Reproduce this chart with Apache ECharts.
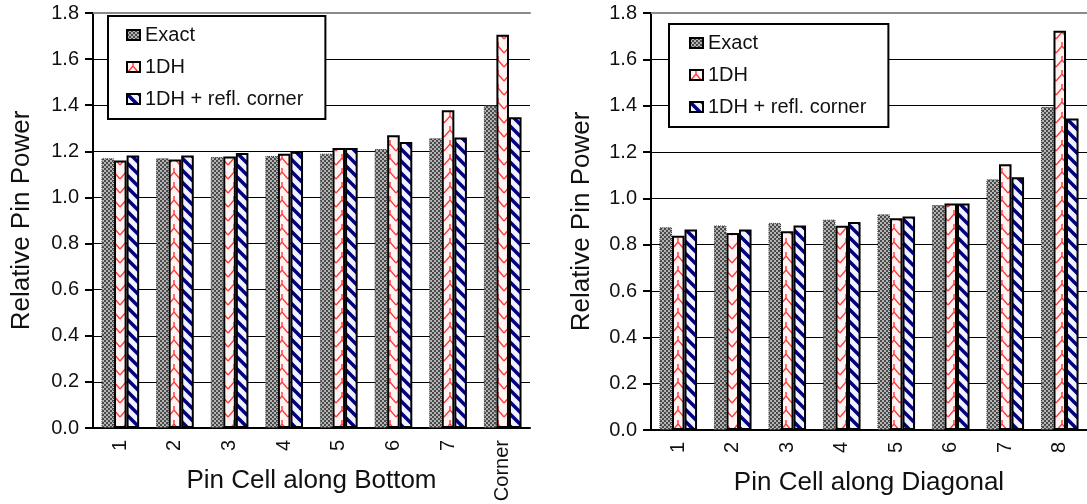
<!DOCTYPE html>
<html>
<head>
<meta charset="utf-8">
<script src="https://cdn.jsdelivr.net/npm/echarts@6/dist/echarts.min.js"></script>
<style>
  html, body { margin: 0; padding: 0; background: #fff; }
  #main { width: 1087px; height: 504px; }
</style>
</head>
<body>
<div id="main"></div>
<script>
// data
var bottomCats = ['1', '2', '3', '4', '5', '6', '7', 'Corner'];
var bottomExact = [1.17, 1.17, 1.175, 1.18, 1.19, 1.21, 1.257, 1.40];
var bottom1DH = [1.16, 1.165, 1.178, 1.19, 1.215, 1.27, 1.378, 1.706];
var bottomRefl = [1.182, 1.182, 1.193, 1.198, 1.215, 1.24, 1.26, 1.348];

var diagCats = ['1', '2', '3', '4', '5', '6', '7', '8'];
var diagExact = [0.875, 0.883, 0.894, 0.908, 0.931, 0.971, 1.082, 1.395];
var diag1DH = [0.839, 0.85, 0.858, 0.882, 0.914, 0.978, 1.147, 1.723];
var diagRefl = [0.866, 0.866, 0.883, 0.898, 0.922, 0.978, 1.091, 1.345];

var yTicks = ['0.0', '0.2', '0.4', '0.6', '0.8', '1.0', '1.2', '1.4', '1.6', '1.8'];
var seriesNames = ['Exact', '1DH', '1DH + refl. corner'];

var font = '"Liberation Sans", Arial, sans-serif';

// fill patterns
function makeTile(w, h, draw) {
    var c = document.createElement('canvas');
    c.width = w;
    c.height = h;
    draw(c.getContext('2d'));
    return c;
}
var checkTile = makeTile(4, 4, function (ctx) {
    ctx.fillStyle = '#b4b4b4';
    ctx.fillRect(0, 0, 4, 4);
    ctx.fillStyle = '#4a4a4a';
    ctx.fillRect(0, 0, 2, 2);
    ctx.fillRect(2, 2, 2, 2);
});
var zigTile = makeTile(12, 14, function (ctx) {
    ctx.fillStyle = '#fff3f3';
    ctx.fillRect(0, 0, 12, 14);
    ctx.strokeStyle = '#ff3a3a';
    ctx.lineWidth = 1.4;
    ctx.beginPath();
    ctx.moveTo(0, 11);
    ctx.lineTo(6, 4);
    ctx.lineTo(12, 11);
    ctx.moveTo(6, 4);
    ctx.lineTo(6, 0);
    ctx.stroke();
});
var stripeTile = makeTile(12, 12, function (ctx) {
    ctx.fillStyle = '#f2f2ff';
    ctx.fillRect(0, 0, 12, 12);
    ctx.strokeStyle = '#000080';
    ctx.lineWidth = 3.5;
    ctx.beginPath();
    ctx.moveTo(-3, -3); ctx.lineTo(15, 15);
    ctx.moveTo(-3, 9); ctx.lineTo(3, 15);
    ctx.moveTo(9, -3); ctx.lineTo(15, 3);
    ctx.stroke();
});
var fills = [
    { image: checkTile, repeat: 'repeat' },
    { image: zigTile, repeat: 'repeat' },
    { image: stripeTile, repeat: 'repeat' }
];
var borders = [
    { borderColor: '#333', borderWidth: 1, borderType: 'dotted' },
    { borderColor: '#000', borderWidth: 2 },
    { borderColor: '#000', borderWidth: 2 }
];

function barSeries(idx, gridIdx, values) {
    return {
        name: seriesNames[idx],
        type: 'bar',
        xAxisIndex: gridIdx * 2,
        yAxisIndex: gridIdx,
        barGap: '0%',
        barCategoryGap: '31%',
        itemStyle: Object.assign({ color: fills[idx] }, borders[idx]),
        emphasis: { disabled: true },
        data: values
    };
}

function xAxisFor(gridIdx, cats, title) {
    return [{
        type: 'category',
        gridIndex: gridIdx,
        data: cats,
        name: title,
        nameLocation: 'middle',
        nameGap: 40,
        nameMoveOverlap: false,
        nameTextStyle: { fontSize: 26, color: '#111', fontFamily: font },
        axisLine: { lineStyle: { color: '#000', width: 2 } },
        axisTick: { length: 9, lineStyle: { color: '#000', width: 2 } },
        axisLabel: { rotate: 90, margin: 12, fontSize: 20, color: '#111', fontFamily: font },
        splitLine: { show: false }
    }, {
        type: 'category',
        gridIndex: gridIdx,
        position: 'top',
        data: cats,
        axisLine: { lineStyle: { color: '#8a8a8a', width: 2 } },
        axisTick: { show: false },
        axisLabel: { show: false }
    }];
}

function yAxisFor(gridIdx, gap) {
    return {
        type: 'value',
        gridIndex: gridIdx,
        min: 0,
        max: 1.8,
        interval: 0.2,
        name: 'Relative Pin Power',
        nameLocation: 'middle',
        nameGap: gap,
        nameMoveOverlap: false,
        nameTextStyle: { fontSize: 26, color: '#111', fontFamily: font },
        axisLine: { show: true, lineStyle: { color: '#000', width: 2 } },
        axisTick: { show: true, length: 8, lineStyle: { color: '#000', width: 2 } },
        axisLabel: {
            margin: 14, fontSize: 20, color: '#111', fontFamily: font,
            formatter: function (v) { return yTicks[Math.round(v / 0.2)]; }
        },
        splitLine: { lineStyle: { color: '#000', width: 1 } }
    };
}

function legendFor(left, top, pad) {
    return {
        left: left,
        top: top,
        orient: 'vertical',
        backgroundColor: '#fff',
        borderColor: '#000',
        borderWidth: 2,
        padding: pad,
        itemGap: 12,
        itemWidth: 13,
        itemHeight: 10,
        icon: 'rect',
        selectedMode: false,
        textStyle: { fontSize: 20, color: '#111', fontFamily: font, lineHeight: 20 },
        data: seriesNames.map(function (n) {
            return { name: n, itemStyle: { borderColor: '#000', borderWidth: 2, borderType: 'solid' } };
        })
    };
}

var chart = echarts.init(document.getElementById('main'));
var option = {
    backgroundColor: '#fff',
    animation: false,
    grid: [
        { left: 93, top: 13, width: 437, bottom: 76, outerBoundsMode: 'none' },
        { left: 651, top: 13, width: 436, bottom: 74, outerBoundsMode: 'none' }
    ],
    legend: [
        legendFor(108, 16, [9, 22, 10, 18]),
        legendFor(669, 24, [9, 22, 10, 20])
    ],
    xAxis: xAxisFor(0, bottomCats, 'Pin Cell along Bottom').concat(xAxisFor(1, diagCats, 'Pin Cell along Diagonal')),
    yAxis: [yAxisFor(0, 58), yAxisFor(1, 56)],
    series: [
        barSeries(0, 0, bottomExact),
        barSeries(1, 0, bottom1DH),
        barSeries(2, 0, bottomRefl),
        barSeries(0, 1, diagExact),
        barSeries(1, 1, diag1DH),
        barSeries(2, 1, diagRefl)
    ]
};
chart.setOption(option);
</script>
</body>
</html>
